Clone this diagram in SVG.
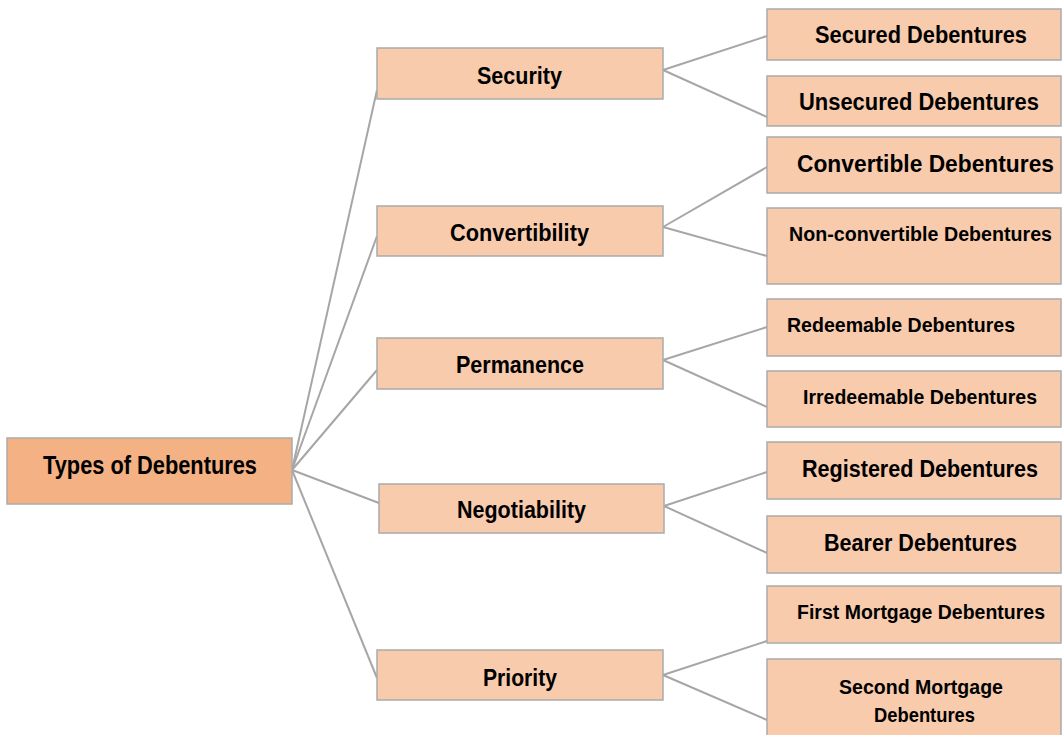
<svg xmlns="http://www.w3.org/2000/svg" width="1062" height="735" viewBox="0 0 1062 735">
<style>
.root{fill:#F4B183;stroke:#ABABAB;stroke-width:1.5}
.box{fill:#F8CBAD;stroke:#ABABAB;stroke-width:1.5}
.t{font-family:"Liberation Sans",Arial,sans-serif;font-weight:bold;fill:#000}
.c{fill:none;stroke:#A6A6A6;stroke-width:2}
</style>
<rect width="1062" height="735" fill="#fff"/>
<g id="connectors">
<line class="c" x1="292" y1="470" x2="377" y2="90"/>
<line class="c" x1="292" y1="470" x2="377" y2="236"/>
<line class="c" x1="292" y1="470" x2="377" y2="370"/>
<line class="c" x1="292" y1="470" x2="379" y2="503"/>
<line class="c" x1="292" y1="470" x2="377" y2="678"/>
<line class="c" x1="663" y1="70" x2="767" y2="36"/>
<line class="c" x1="663" y1="70" x2="767" y2="117"/>
<line class="c" x1="663" y1="227" x2="767" y2="167"/>
<line class="c" x1="663" y1="227" x2="767" y2="256"/>
<line class="c" x1="663" y1="360" x2="767" y2="327"/>
<line class="c" x1="663" y1="360" x2="767" y2="407"/>
<line class="c" x1="664" y1="506" x2="767" y2="472"/>
<line class="c" x1="664" y1="506" x2="767" y2="553"/>
<line class="c" x1="663" y1="675" x2="767" y2="641"/>
<line class="c" x1="663" y1="675" x2="767" y2="720"/>
</g>
<g id="root"><rect class="root" x="7" y="438" width="285" height="66"/><text class="t" x="43" y="474" font-size="25" textLength="214" lengthAdjust="spacingAndGlyphs">Types of Debentures</text></g>
<g id="security"><rect class="box" x="377" y="48" width="286" height="51"/><text class="t" x="477" y="84" font-size="23" textLength="85" lengthAdjust="spacingAndGlyphs">Security</text></g>
<g id="convertibility"><rect class="box" x="377" y="206" width="286" height="50"/><text class="t" x="450" y="241" font-size="23" textLength="139" lengthAdjust="spacingAndGlyphs">Convertibility</text></g>
<g id="permanence"><rect class="box" x="377" y="338" width="286" height="51"/><text class="t" x="456" y="373" font-size="23" textLength="128" lengthAdjust="spacingAndGlyphs">Permanence</text></g>
<g id="negotiability"><rect class="box" x="379" y="484" width="285" height="49"/><text class="t" x="457" y="518" font-size="23" textLength="129" lengthAdjust="spacingAndGlyphs">Negotiability</text></g>
<g id="priority"><rect class="box" x="377" y="650" width="286" height="50"/><text class="t" x="483" y="686" font-size="23" textLength="74" lengthAdjust="spacingAndGlyphs">Priority</text></g>
<g id="secured"><rect class="box" x="767" y="9" width="294" height="51"/><text class="t" x="815" y="43" font-size="23" textLength="212" lengthAdjust="spacingAndGlyphs">Secured Debentures</text></g>
<g id="unsecured"><rect class="box" x="767" y="76" width="294" height="50"/><text class="t" x="799" y="110" font-size="23" textLength="240" lengthAdjust="spacingAndGlyphs">Unsecured Debentures</text></g>
<g id="convertible"><rect class="box" x="767" y="137" width="294" height="56"/><text class="t" x="797" y="172" font-size="23" textLength="257" lengthAdjust="spacingAndGlyphs">Convertible Debentures</text></g>
<g id="nonconvertible"><rect class="box" x="767" y="208" width="294" height="76"/><text class="t" x="789" y="241" font-size="19.5" textLength="263" lengthAdjust="spacingAndGlyphs">Non-convertible Debentures</text></g>
<g id="redeemable"><rect class="box" x="767" y="299" width="294" height="57"/><text class="t" x="787" y="332" font-size="21" textLength="228" lengthAdjust="spacingAndGlyphs">Redeemable Debentures</text></g>
<g id="irredeemable"><rect class="box" x="767" y="371" width="294" height="56"/><text class="t" x="803" y="404" font-size="21" textLength="234" lengthAdjust="spacingAndGlyphs">Irredeemable Debentures</text></g>
<g id="registered"><rect class="box" x="767" y="442" width="294" height="57"/><text class="t" x="802" y="477" font-size="23" textLength="236" lengthAdjust="spacingAndGlyphs">Registered Debentures</text></g>
<g id="bearer"><rect class="box" x="767" y="516" width="294" height="57"/><text class="t" x="824" y="551" font-size="23" textLength="193" lengthAdjust="spacingAndGlyphs">Bearer Debentures</text></g>
<g id="firstmortgage"><rect class="box" x="767" y="586" width="294" height="57"/><text class="t" x="797" y="619" font-size="19.5" textLength="248" lengthAdjust="spacingAndGlyphs">First Mortgage Debentures</text></g>
<g id="secondmortgage"><rect class="box" x="767" y="659" width="294" height="82"/><text class="t" x="839" y="694" font-size="21" textLength="164" lengthAdjust="spacingAndGlyphs">Second Mortgage</text><text class="t" x="874" y="722" font-size="21" textLength="101" lengthAdjust="spacingAndGlyphs">Debentures</text></g>
</svg>
